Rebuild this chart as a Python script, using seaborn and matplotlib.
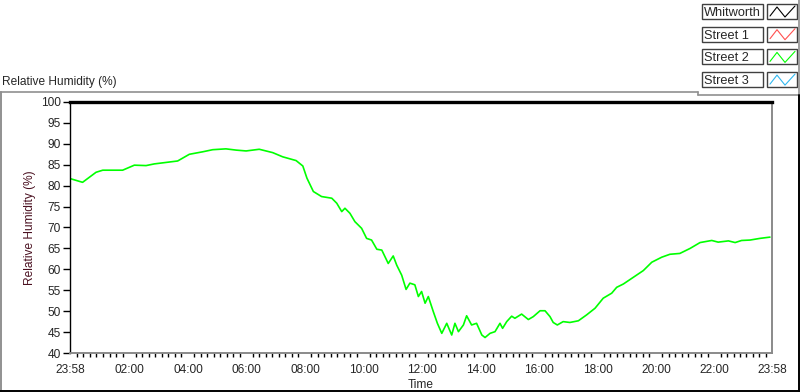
import numpy as np
import pandas as pd
import matplotlib
matplotlib.use("Agg")
import matplotlib.pyplot as plt
from matplotlib.lines import Line2D
from matplotlib.patches import Rectangle
from matplotlib.ticker import FixedLocator
import seaborn as sns

# hours elapsed since 23:58 and relative humidity (%) for Street 2
hours = [0.00, 0.43, 0.89, 1.12, 1.80, 2.20, 2.60, 2.88, 3.68, 4.08, 4.54, 4.88,
         5.33, 5.68, 6.02, 6.47, 6.93, 7.27, 7.73, 7.96, 8.10, 8.32, 8.60, 8.95,
         9.12, 9.29, 9.40, 9.57, 9.74, 9.97, 10.14, 10.31, 10.49, 10.66, 10.88,
         11.05, 11.17, 11.34, 11.49, 11.62, 11.79, 11.91, 12.02, 12.14, 12.25,
         12.42, 12.56, 12.71, 12.88, 13.05, 13.16, 13.28, 13.45, 13.56, 13.73,
         13.90, 14.08, 14.19, 14.36, 14.53, 14.70, 14.79, 14.93, 15.10, 15.21,
         15.44, 15.67, 15.84, 16.07, 16.24, 16.41, 16.52, 16.66, 16.86, 17.09,
         17.38, 17.66, 17.95, 18.23, 18.52, 18.69, 18.92, 19.26, 19.60, 19.89,
         20.23, 20.51, 20.85, 21.20, 21.54, 21.94, 22.16, 22.51, 22.74, 22.96,
         23.25, 23.59, 23.93]
street2 = [81.7, 80.8, 83.2, 83.7, 83.7, 84.9, 84.8, 85.2, 85.9, 87.5, 88.1, 88.6,
           88.8, 88.5, 88.3, 88.7, 87.9, 86.9, 86.0, 84.7, 81.8, 78.6, 77.4, 77.0,
           75.8, 73.8, 74.6, 73.4, 71.4, 69.8, 67.4, 67.0, 64.8, 64.6, 61.4,
           63.2, 61.0, 58.6, 55.2, 56.7, 56.3, 53.5, 54.7, 51.9, 53.5,
           49.9, 47.1, 44.7, 47.1, 44.3, 47.1, 45.1, 46.7, 48.9, 46.7,
           47.1, 44.3, 43.7, 44.7, 45.1, 47.1, 45.9, 47.5, 48.8, 48.3,
           49.3, 48.0, 48.7, 50.1, 50.1, 48.7, 47.3, 46.7, 47.5, 47.3,
           47.7, 49.1, 50.7, 53.1, 54.3, 55.7, 56.5, 58.1, 59.7, 61.7,
           62.9, 63.6, 63.8, 65.0, 66.4, 66.9, 66.5, 66.8, 66.4, 66.9,
           67.0, 67.4, 67.7]

tick_labels = ["23:58", "02:00", "04:00", "06:00", "08:00", "10:00", "12:00",
               "14:00", "16:00", "18:00", "20:00", "22:00", "23:58"]
legend_names = ["Whitworth", "Street 1", "Street 2", "Street 3"]
legend_colors = ["#000000", "#ff5050", "#00ff00", "#30b8f0"]

sns.set_style("white")
plt.rcParams["font.family"] = ["Liberation Sans", "DejaVu Sans"]
plt.rcParams["font.size"] = 8.6

W, H = 800, 392
fig = plt.figure(figsize=(W / 100, H / 100), dpi=100)


def fx(x):
    return x / W


def fy(y):
    return 1 - y / H


ax = fig.add_axes([fx(70), fy(353), fx(772) - fx(70), fy(102) - fy(353)])
df = pd.DataFrame({"t": hours, "rh": street2})
sns.lineplot(data=df, x="t", y="rh", ax=ax, color="#00ff00", lw=1.2)

# tick positions: first/last are the 23:58 ends, the rest at the even hours
tick_pos = []
for i, lab in enumerate(tick_labels):
    if i == 0:
        tick_pos.append(0.0)
    elif i == len(tick_labels) - 1:
        tick_pos.append(24.0)
    else:
        hh, mm = lab.split(":")
        tick_pos.append(int(hh) + int(mm) / 60 + 2 / 60)
minor = []
for a, b in zip(tick_pos[:-1], tick_pos[1:]):
    minor += list(np.linspace(a, b, 10)[1:-1])

ax.set_xlim(0, 24)
ax.set_ylim(40, 100)
ax.xaxis.set_major_locator(FixedLocator(tick_pos))
ax.xaxis.set_minor_locator(FixedLocator(minor))
ax.set_xticklabels(tick_labels)
ax.set_yticks(np.arange(40, 101, 5))
ax.tick_params(axis="x", which="major", length=5, width=1.6, color="black",
               direction="out", pad=3, labelsize=8.6)
ax.tick_params(axis="x", which="minor", length=3, width=1, color="black",
               direction="out", bottom=True)
ax.tick_params(axis="y", length=5, width=1, color="black", direction="out",
               pad=1.5, labelsize=8.6, left=True)
ax.set_xlabel("Time", fontsize=8.6, labelpad=2)
ax.set_ylabel("Relative Humidity (%)", fontsize=8.6, color="#4a1020", labelpad=4)

ax.spines["top"].set_color("black")
ax.spines["top"].set_linewidth(2.4)
ax.spines["left"].set_color("black")
ax.spines["left"].set_linewidth(1)
ax.spines["bottom"].set_color("#8a8a8a")
ax.spines["bottom"].set_linewidth(1.4)
ax.spines["right"].set_color("#8a8a8a")
ax.spines["right"].set_linewidth(1.4)

# panel frame
gray = "#909090"
fig.add_artist(Line2D([fx(0), fx(698)], [fy(92), fy(92)], color=gray, lw=1.2))
fig.add_artist(Line2D([fx(698), fx(799)], [fy(95), fy(95)], color=gray, lw=1.2))
fig.add_artist(Line2D([fx(698), fx(698)], [fy(92), fy(95)], color=gray, lw=1.2))
fig.add_artist(Line2D([fx(799), fx(799)], [fy(0), fy(95)], color=gray, lw=1.2))
fig.add_artist(Line2D([fx(1), fx(1)], [fy(92), fy(391)], color=gray, lw=1.4))
fig.add_artist(Line2D([fx(0), fx(800)], [fy(391), fy(391)], color="black", lw=1.4))
fig.add_artist(Line2D([fx(799), fx(799)], [fy(95), fy(391)], color="black", lw=1.4))

fig.text(fx(2), fy(82), "Relative Humidity (%)", fontsize=8.6, ha="left", va="center")

# legend boxes
for i, (name, col) in enumerate(zip(legend_names, legend_colors)):
    top = 4 + i * 22.7
    bot = top + 15
    fig.add_artist(Rectangle((fx(702), fy(bot)), fx(763) - fx(702), fy(top) - fy(bot),
                             transform=fig.transFigure, facecolor="white",
                             edgecolor="#404040", lw=1))
    fig.text(fx(704), fy(bot - 3), name, fontsize=9.2, ha="left", va="baseline")
    fig.add_artist(Rectangle((fx(767), fy(bot)), fx(797) - fx(767), fy(top) - fy(bot),
                             transform=fig.transFigure, facecolor="white",
                             edgecolor="#404040", lw=1))
    zx = [770, 777, 785, 795]
    zy = [bot - 3, top + 3, bot - 2, top + 2]
    fig.add_artist(Line2D([fx(v) for v in zx], [fy(v) for v in zy], color=col, lw=0.8))

fig.savefig("out.png", dpi=100)
